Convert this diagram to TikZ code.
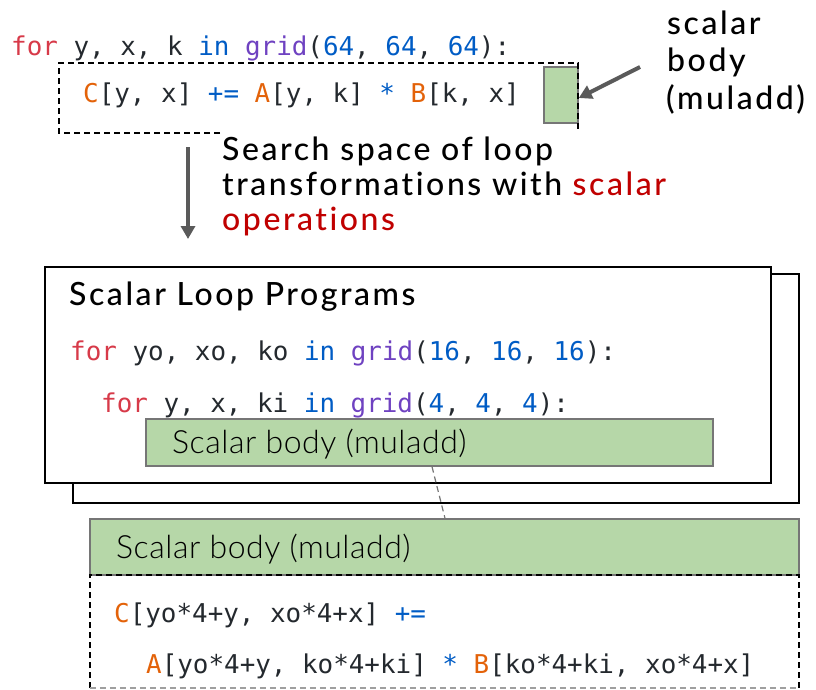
\documentclass[tikz,border=0pt]{standalone}
\usepackage{fontspec}
\setmonofont{DejaVu Sans Mono}
\IfFontExistsTF{Lato Medium}
  {\setmainfont{Lato Medium}[LetterSpace=8, Ligatures=NoCommon]}
  {\setmainfont{Lato}[LetterSpace=8, Ligatures=NoCommon]}
\IfFontExistsTF{Lato Light}
  {\newfontfamily\lightfont{Lato Light}[LetterSpace=1.7, Ligatures=NoCommon]}
  {\newfontfamily\lightfont{Lato}[LetterSpace=1.7, Ligatures=NoCommon]}
\usetikzlibrary{arrows.meta}

\definecolor{kwred}{HTML}{D73A49}
\definecolor{kwblue}{HTML}{005CC5}
\definecolor{kwpurple}{HTML}{6F42C1}
\definecolor{kworange}{HTML}{E36209}
\definecolor{codetext}{HTML}{24292E}
\definecolor{bodygreen}{HTML}{B6D7A8}
\definecolor{boxgray}{HTML}{767676}
\definecolor{arrowgray}{HTML}{5A5A5A}
\definecolor{hlred}{HTML}{C00000}

\newcommand{\kw}[1]{\textcolor{kwred}{#1}}
\newcommand{\bl}[1]{\textcolor{kwblue}{#1}}
\newcommand{\fn}[1]{\textcolor{kwpurple}{#1}}
\newcommand{\ob}[1]{\textcolor{kworange}{#1}}
\newcommand{\codefont}{\ttfamily\fontsize{25.9}{30}\selectfont}
\newcommand{\labelfont}{\fontsize{32}{35}\selectfont}
\newcommand{\bodyfont}{\lightfont\fontsize{32}{35}\selectfont}

\tikzset{
  code/.style={font=\codefont, text=codetext, inner sep=0, anchor=base west},
  label/.style={font=\labelfont, text=black, inner sep=0, anchor=base west},
  bodytext/.style={font=\bodyfont, text=black, inner sep=0, anchor=base west},
  greenbox/.style={draw=boxgray, line width=1.5, fill=bodygreen, inner sep=0},
  frame/.style={draw=black, line width=2, fill=white, inner sep=0},
  dashbox/.style={draw=black, line width=1.5, dash pattern=on 6 off 4},
  garrow/.style={draw=arrowgray, line width=4, -{Triangle[length=13,width=14]}},
  link/.style={draw=boxgray, line width=1.2, dash pattern=on 6 off 4}
}

\begin{document}
\begin{tikzpicture}[x=1pt, y=-1pt]
\useasboundingbox (0,0) rectangle (816,690);

% original loop nest
\node[code] (l1) at (11,56) {\kw{for} y, x, k \bl{in} \fn{grid}(\bl{64}, \bl{64}, \bl{64}):};
\node[greenbox, minimum width=34, minimum height=56] (gs) at (561,95) {};
\draw[dashbox] (220,133) -- (59,133) -- (59,63) -- (578,63) -- (578,130);
\node[code] (l2) at (83,103) {\ob{C}[y, x] \bl{+=} \ob{A}[y, k] \bl{*} \ob{B}[k, x]};

% callout for the scalar body
\node[label] (s1) at (667,35) {scalar};
\node[label] (s2) at (667,72) {body};
\node[label] (s3) at (666,110) {(muladd)};
\coordinate (ltail) at (640,67);
\draw[garrow] (ltail) -- ([yshift=-3pt]gs.east);

% search step
\coordinate (dtop) at (188,147);
\coordinate (dbot) at (188,239);
\draw[garrow] (dtop) -- (dbot);
\node[label] (t1) at (222,160) {Search space of loop};
\node[label] (t2) at (222,195) {transformations with \textcolor{hlred}{scalar}};
\node[label] (t3) at (222,230) {\textcolor{hlred}{operations}};

% stack of scalar loop programs
\node[frame, minimum width=726, minimum height=229] (back) at (436,388.5) {};
\node[frame, minimum width=726, minimum height=216] (front) at (408,375) {};
\node[label] (title) at (69,305) {Scalar Loop Programs};
\node[code] (l3) at (70,360) {\kw{for} yo, xo, ko \bl{in} \fn{grid}(\bl{16}, \bl{16}, \bl{16}):};
\node[code] (l4) at (101,412) {\kw{for} y, x, ki \bl{in} \fn{grid}(\bl{4}, \bl{4}, \bl{4}):};
\node[greenbox, minimum width=567, minimum height=47] (inner) at (429.5,442.5) {};
\node[bodytext] (ib) at (172,453) {Scalar body (muladd)};

% expanded scalar body
\node[greenbox, minimum width=709, minimum height=56] (bot) at (444.5,547) {};
\node[bodytext] (bb) at (116,558) {Scalar body (muladd)};
\node[minimum width=709, minimum height=113, inner sep=0] (cb) at (444.5,631.5) {};
\draw[dashbox] (cb.south west) -- (cb.north west) -- (cb.north east) -- (cb.south east);
\draw[dashbox, draw=boxgray!70] (cb.south west) -- (cb.south east);
\node[code] (l5) at (114,622) {\ob{C}[yo*4+y, xo*4+x] \bl{+=}};
\node[code] (l6) at (146,673) {\ob{A}[yo*4+y, ko*4+ki] \bl{*} \ob{B}[ko*4+ki, xo*4+x]};

\draw[link] ([xshift=2.5pt]inner.south) -- ([xshift=0.5pt]bot.north);
\end{tikzpicture}
\end{document}
